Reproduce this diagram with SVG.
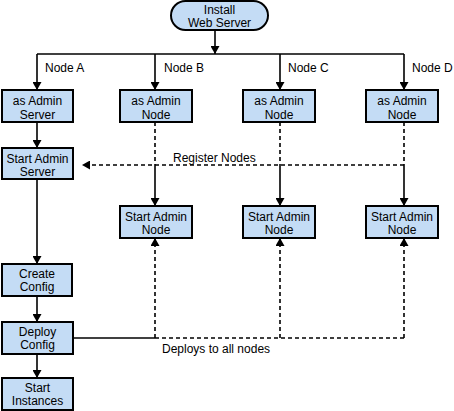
<svg xmlns="http://www.w3.org/2000/svg" width="454" height="411" viewBox="0 0 454 411">
<defs>
<marker id="ah" markerUnits="userSpaceOnUse" markerWidth="9" markerHeight="9" refX="8" refY="4.5" orient="auto">
<path d="M0,0 L8,4.5 L0,9 z" fill="#000"/>
</marker>
<style>
.box{fill:#C4DCF5;stroke:#000;stroke-width:2}
.t{font-family:"Liberation Sans",Arial,sans-serif;font-size:12px;fill:#000}
.c{text-anchor:middle}
.ln{fill:none;stroke:#000;stroke-width:1.6}
.d{stroke-dasharray:4,3}
</style>
</defs>
<rect width="454" height="411" fill="#fff"/>
<g id="connectors">
<line class="ln" x1="215" y1="30" x2="215" y2="54" marker-end="url(#ah)"/>
<line class="ln" x1="37" y1="54" x2="404" y2="54"/>
<line class="ln" x1="37" y1="54" x2="37" y2="90" marker-end="url(#ah)"/>
<line class="ln" x1="155" y1="54" x2="155" y2="90" marker-end="url(#ah)"/>
<line class="ln" x1="280" y1="54" x2="280" y2="90" marker-end="url(#ah)"/>
<line class="ln" x1="404" y1="54" x2="404" y2="90" marker-end="url(#ah)"/>
<line class="ln" x1="37" y1="122" x2="37" y2="148" marker-end="url(#ah)"/>
<line class="ln" x1="37" y1="179" x2="37" y2="264" marker-end="url(#ah)"/>
<line class="ln" x1="37" y1="296" x2="37" y2="322" marker-end="url(#ah)"/>
<line class="ln" x1="37" y1="354" x2="37" y2="378" marker-end="url(#ah)"/>
<line class="ln d" x1="155" y1="122" x2="155" y2="165"/>
<line class="ln d" x1="280" y1="122" x2="280" y2="165"/>
<line class="ln d" x1="404" y1="122" x2="404" y2="165"/>
<line class="ln d" x1="404" y1="165" x2="82" y2="165" marker-end="url(#ah)"/>
<line class="ln" x1="155" y1="165" x2="155" y2="206" marker-end="url(#ah)"/>
<line class="ln" x1="280" y1="165" x2="280" y2="206" marker-end="url(#ah)"/>
<line class="ln" x1="404" y1="165" x2="404" y2="206" marker-end="url(#ah)"/>
<line class="ln" x1="73" y1="338" x2="155" y2="338"/>
<line class="ln d" x1="155" y1="338" x2="404" y2="338"/>
<line class="ln d" x1="155" y1="338" x2="155" y2="238" marker-end="url(#ah)"/>
<line class="ln d" x1="280" y1="338" x2="280" y2="238" marker-end="url(#ah)"/>
<line class="ln d" x1="404" y1="338" x2="404" y2="238" marker-end="url(#ah)"/>
<text class="t" x="45" y="72">Node A</text>
<text class="t" x="164" y="72">Node B</text>
<text class="t" x="288" y="72">Node C</text>
<text class="t" x="412" y="72">Node D</text>
<text class="t" x="173" y="162">Register Nodes</text>
<text class="t" x="162" y="353">Deploys to all nodes</text>
</g>
<g id="install">
<rect class="box" x="171" y="1" width="97" height="29" rx="14.5"/>
<text class="t c" x="219.5" y="14">Install</text>
<text class="t c" x="219.5" y="27">Web Server</text>
</g>
<g id="asAdminServer">
<rect class="box" x="2" y="90" width="71" height="32"/>
<text class="t c" x="37.5" y="105">as Admin</text>
<text class="t c" x="37.5" y="119">Server</text>
</g>
<g id="asAdminNodeB">
<rect class="box" x="120" y="90" width="72" height="32"/>
<text class="t c" x="156" y="105">as Admin</text>
<text class="t c" x="156" y="119">Node</text>
</g>
<g id="asAdminNodeC">
<rect class="box" x="243" y="90" width="72" height="32"/>
<text class="t c" x="279" y="105">as Admin</text>
<text class="t c" x="279" y="119">Node</text>
</g>
<g id="asAdminNodeD">
<rect class="box" x="366" y="90" width="72" height="32"/>
<text class="t c" x="402" y="105">as Admin</text>
<text class="t c" x="402" y="119">Node</text>
</g>
<g id="startAdminServer">
<rect class="box" x="2" y="148" width="71" height="31"/>
<text class="t c" x="37.5" y="163">Start Admin</text>
<text class="t c" x="37.5" y="176">Server</text>
</g>
<g id="startAdminNodeB">
<rect class="box" x="120" y="206" width="72" height="32"/>
<text class="t c" x="156" y="221">Start Admin</text>
<text class="t c" x="156" y="234">Node</text>
</g>
<g id="startAdminNodeC">
<rect class="box" x="243" y="206" width="72" height="32"/>
<text class="t c" x="279" y="221">Start Admin</text>
<text class="t c" x="279" y="234">Node</text>
</g>
<g id="startAdminNodeD">
<rect class="box" x="366" y="206" width="72" height="32"/>
<text class="t c" x="402" y="221">Start Admin</text>
<text class="t c" x="402" y="234">Node</text>
</g>
<g id="createConfig">
<rect class="box" x="2" y="264" width="70" height="32"/>
<text class="t c" x="37" y="278">Create</text>
<text class="t c" x="37" y="291">Config</text>
</g>
<g id="deployConfig">
<rect class="box" x="2" y="322" width="71" height="32"/>
<text class="t c" x="37.5" y="336">Deploy</text>
<text class="t c" x="37.5" y="349">Config</text>
</g>
<g id="startInstances">
<rect class="box" x="2" y="378" width="71" height="32"/>
<text class="t c" x="37.5" y="392">Start</text>
<text class="t c" x="37.5" y="405">Instances</text>
</g>
</svg>
